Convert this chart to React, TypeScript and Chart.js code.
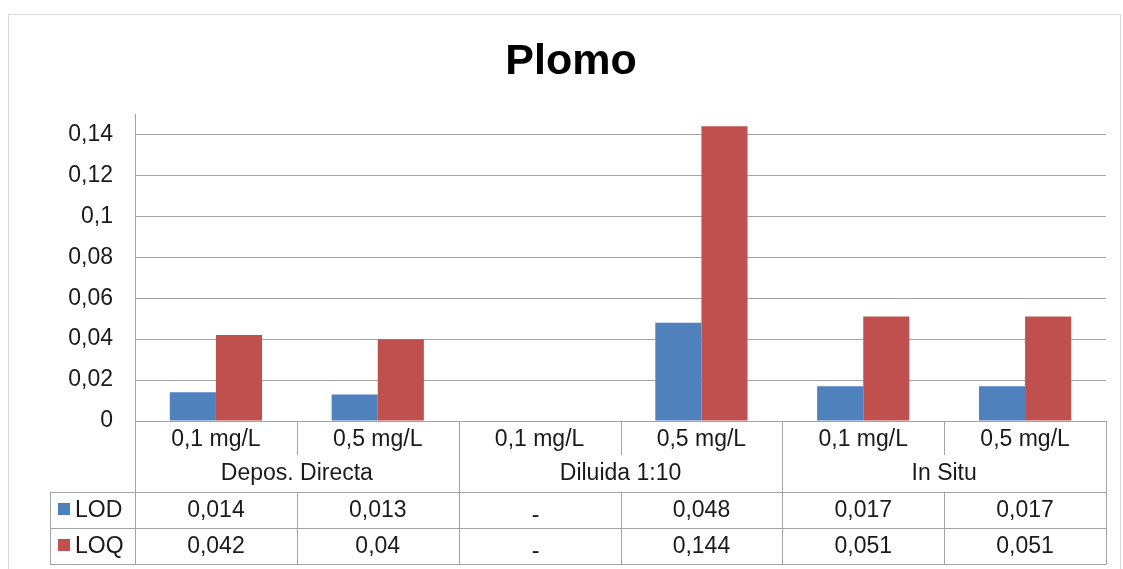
import React, { useEffect, useRef } from 'react';
import { Chart, registerables } from 'chart.js';

Chart.register(...registerables);

const chartTitle = 'Plomo';
const subCategories = ['0,1 mg/L', '0,5 mg/L', '0,1 mg/L', '0,5 mg/L', '0,1 mg/L', '0,5 mg/L'];
const groupLabels = ['Depos. Directa', 'Diluida 1:10', 'In Situ'];
const seriesNames = ['LOD', 'LOQ'];
const lodValues: (number | null)[] = [0.014, 0.013, null, 0.048, 0.017, 0.017];
const loqValues: (number | null)[] = [0.042, 0.04, null, 0.144, 0.051, 0.051];
const yTickValues = [0, 0.02, 0.04, 0.06, 0.08, 0.1, 0.12, 0.14];
const yTickLabels = ['0', '0,02', '0,04', '0,06', '0,08', '0,1', '0,12', '0,14'];
const seriesColors = ['#4F81BD', '#C0504D'];

const FONT = "'Liberation Sans', Arial, sans-serif";
const TEXT = '#1a1a1a';
const LINE = '#a3a3a3';

const fmt = (v: number | null) => (v == null ? '-' : String(v).replace('.', ','));

const tablePlugin = {
  id: 'tablePlugin',
  beforeDraw(chart: any) {
    const ctx = chart.ctx;
    ctx.save();
    ctx.fillStyle = '#ffffff';
    ctx.fillRect(0, 0, chart.width, chart.height);
    ctx.strokeStyle = '#d9d9d9';
    ctx.lineWidth = 1;
    ctx.strokeRect(8.5, 14.5, 1112, 600);
    ctx.restore();
  },
  afterDraw(chart: any) {
    const ctx = chart.ctx;
    const ca = chart.chartArea;
    const xs = chart.scales.x;
    const n = subCategories.length;
    const left = ca.left;
    const right = ca.right;
    const cw = (right - left) / n;
    const y0 = ca.bottom;
    const ySub = y0 + 34;
    const yGroup = y0 + 71;
    const yRow1 = yGroup + 36;
    const yRow2 = yRow1 + 36;
    const tableLeft = 50;
    const px = (v: number) => Math.round(v) + 0.5;

    ctx.save();
    // title
    ctx.fillStyle = '#000';
    ctx.font = `bold 43px ${FONT}`;
    ctx.textAlign = 'center';
    ctx.textBaseline = 'alphabetic';
    ctx.fillText(chartTitle, 571, 74);

    // lines
    ctx.strokeStyle = LINE;
    ctx.lineWidth = 1;
    const line = (x1: number, y1: number, x2: number, y2: number) => {
      ctx.beginPath();
      ctx.moveTo(x1, y1);
      ctx.lineTo(x2, y2);
      ctx.stroke();
    };
    line(left, px(y0), right, px(y0));
    line(px(left), y0, px(left), yRow2);
    for (let i = 1; i <= n; i++) {
      const x = px(left + i * cw);
      if (i % 2 === 0) {
        line(x, y0, x, yRow2);
      } else {
        line(x, y0, x, ySub);
        line(x, yGroup, x, yRow2);
      }
    }
    line(tableLeft, px(yGroup), right, px(yGroup));
    line(tableLeft, px(yRow1), right, px(yRow1));
    line(tableLeft, px(yRow2), right, px(yRow2));
    line(px(tableLeft), yGroup, px(tableLeft), yRow2);

    // texts
    ctx.fillStyle = TEXT;
    ctx.font = `23px ${FONT}`;
    ctx.textAlign = 'center';
    for (let i = 0; i < n; i++) {
      ctx.fillText(subCategories[i], xs.getPixelForValue(i), y0 + 25);
    }
    for (let g = 0; g < groupLabels.length; g++) {
      const cx = (xs.getPixelForValue(2 * g) + xs.getPixelForValue(2 * g + 1)) / 2;
      ctx.fillText(groupLabels[g], cx, y0 + 59);
    }
    const rows = [lodValues, loqValues];
    rows.forEach((vals, r) => {
      const top = yGroup + r * 36;
      const base = top + 25;
      ctx.fillStyle = seriesColors[r];
      ctx.fillRect(58, top + 11, 12, 12);
      ctx.fillStyle = TEXT;
      ctx.textAlign = 'left';
      ctx.fillText(seriesNames[r], 75, base);
      ctx.textAlign = 'center';
      for (let i = 0; i < n; i++) {
        const v = vals[i];
        ctx.fillText(fmt(v), xs.getPixelForValue(i) - (v == null ? 4 : 0), v == null ? base + 5 : base);
      }
    });
    ctx.restore();
  },
};

export default function App() {
  const ref = useRef<HTMLCanvasElement>(null);
  useEffect(() => {
    if (!ref.current) return;
    const chart = new Chart(ref.current, {
      type: 'bar',
      data: {
        labels: subCategories,
        datasets: [
          { label: seriesNames[0], data: lodValues, backgroundColor: seriesColors[0] },
          { label: seriesNames[1], data: loqValues, backgroundColor: seriesColors[1] },
        ],
      },
      options: {
        animation: false,
        responsive: false,
        layout: { padding: { left: 0, top: 114, right: 17, bottom: 148 } },
        datasets: { bar: { categoryPercentage: 0.57, barPercentage: 1 } },
        plugins: {
          legend: { display: false },
          title: { display: false },
          tooltip: { enabled: false },
        },
        scales: {
          x: { display: false },
          y: {
            min: 0,
            max: 0.15,
            afterFit: (s: any) => {
              s.width = 135;
            },
            afterBuildTicks: (s: any) => {
              s.ticks = yTickValues.map((v) => ({ value: v }));
            },
            ticks: {
              padding: 22,
              color: TEXT,
              font: { family: FONT, size: 23 },
              callback: (_v: any, i: number) => yTickLabels[i],
            },
            grid: { color: LINE, drawTicks: false },
            border: { display: true, color: LINE },
          },
        },
      },
      plugins: [tablePlugin],
    });
    return () => chart.destroy();
  }, []);
  return (
    <canvas
      ref={ref}
      width={1123}
      height={569}
      style={{ position: 'absolute', left: 0, top: 0, width: 1123, height: 569 }}
    />
  );
}
